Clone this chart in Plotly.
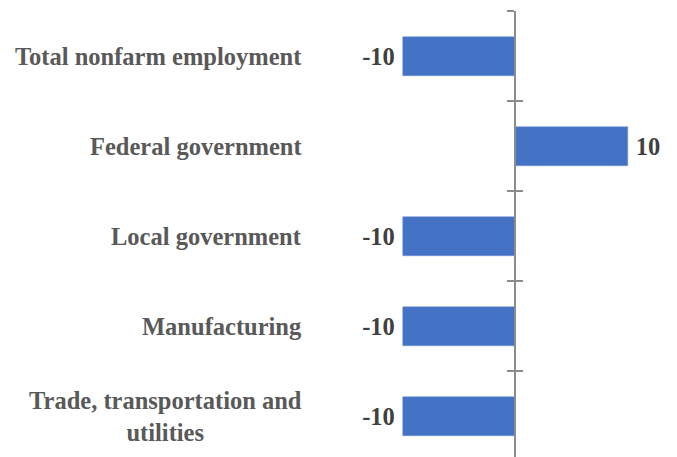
import plotly.graph_objs as go

### datos del gráfico
categorias = ["Total nonfarm employment", "Federal government", "Local government",
              "Manufacturing", "Trade, transportation and<br>utilities"]
valores = [-10, 10, -10, -10, -10]
etiquetas = ["-10", "10", "-10", "-10", "-10"]

### rango del eje x (0 debe caer en x≈514 px; la página añade ~7 px de margen)
xmin, xmax = -45.07, 15.11
pos_cero = -xmin / (xmax - xmin)

fuente_val = dict(family="Liberation Serif", size=24.5, color="#404040", weight="bold")
fuente_cat = dict(family="Liberation Serif", size=24.5, color="#595959", weight="bold")

### un poco más de separación entre barra y etiqueta
textos = [e + "\u2009" if v < 0 else "\u2009" + e for e, v in zip(etiquetas, valores)]

data = [
    go.Bar(x=valores, y=categorias, orientation="h", width=0.44,
           marker=dict(color="#4472C4", line=dict(color="#6E93D6", width=0.5)),
           text=textos, textposition="outside", textfont=fuente_val,
           cliponaxis=False, hoverinfo="skip"),
    ### traza invisible para el segundo eje (ticks hacia dentro)
    go.Scatter(x=[0] * len(categorias), y=categorias, yaxis="y2", mode="markers",
               marker=dict(opacity=0), showlegend=False, hoverinfo="skip"),
]

eje_y = dict(type="category", categoryarray=categorias, range=[4.54, -0.505],
             showline=True, linecolor="#8C8C8C", linewidth=1.5,
             tickson="boundaries", ticklen=7, tickwidth=1.5, tickcolor="#8C8C8C",
             showticklabels=False, showgrid=False, zeroline=False,
             anchor="free", position=pos_cero, side="left")

Layout = go.Layout(
    width=677, height=457,
    margin=dict(l=0, r=0, t=3, b=0, autoexpand=False),
    paper_bgcolor="white", plot_bgcolor="white",
    showlegend=False, bargap=0,
    xaxis=dict(range=[xmin, xmax], visible=False),
    yaxis=dict(eje_y, ticks="outside"),
    yaxis2=dict(eje_y, ticks="inside", overlaying="y"),
)

fig = go.Figure(data, Layout)

### etiquetas de categoría centradas, a la izquierda
for c in categorias:
    fig.add_annotation(text=c, x=296 / 677, xref="paper", y=c, yref="y",
                       xanchor="right", yanchor="middle", align="center",
                       showarrow=False, font=fuente_cat)

fig.write_html("out.html")
